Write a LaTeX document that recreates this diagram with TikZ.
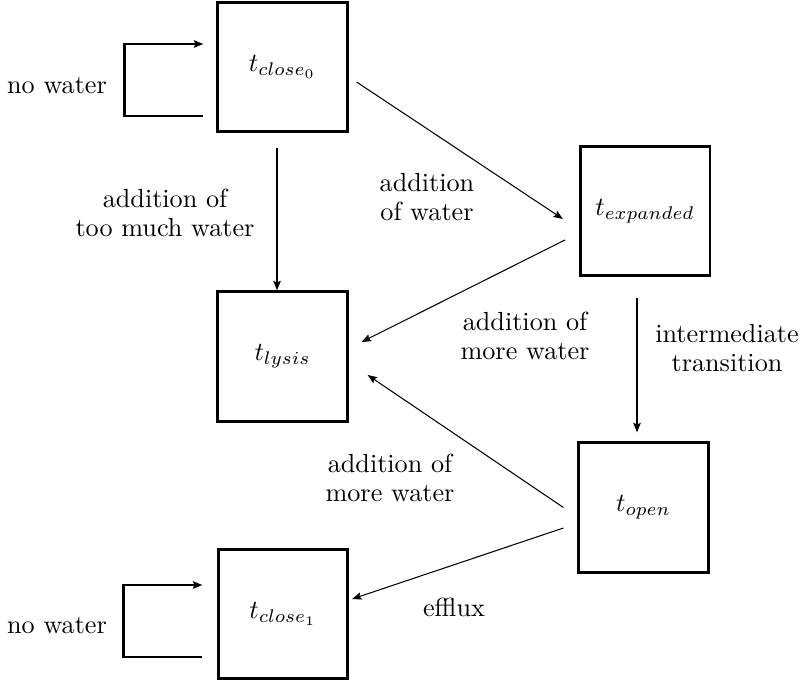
\documentclass[tikz,border=0pt]{standalone}
\usepackage{amsmath}
\usetikzlibrary{arrows.meta,positioning}

\begin{document}
\begin{tikzpicture}[->,>={Stealth[length=3.6pt,width=2.8pt,inset=0.6pt]},x=0.382pt,y=-0.382pt,
                    state node/.style={rectangle,draw,line width=1pt,minimum size=49.5pt,inner sep=0pt},
                    label node/.style={align=center,font=\fontsize{10}{10.8}\selectfont}]
        \useasboundingbox (0,0) rectangle (806,683);

        \node[state node] (close0) at (282.5,67) {$t_{close_0}$};
        \node[state node] (expanded) at (645,211) {$t_{expanded}$};
        \node[state node] (lysis) at (282.5,356.5) {$t_{lysis}$};
        \node[state node] (open) at (643.5,507.5) {$t_{open}$};
        \node[state node] (close1) at (283,614) {$t_{close_1}$};

        \node[label node] (nowater0) at (57,86) {no water};
        \node[label node] (toomuch) at (165,213) {addition of\\too much water};
        \node[label node] (ofwater) at (427,197) {addition\\of water};
        \node[label node] (more1) at (525,336) {addition of\\more water};
        \node[label node] (inter) at (727,348) {intermediate\\transition};
        \node[label node] (more2) at (390,478) {addition of\\more water};
        \node[label node] (efflux) at (454,607) {efflux};
        \node[label node] (nowater1) at (57,626) {no water};

        \path[thin]
            ([shift={(8,15)}]close0.east) edge ([shift={(-16,8)}]expanded.west)
            ([shift={(-14,29)}]expanded.west) edge ([shift={(13,-14.5)}]lysis.east)
            ([shift={(-14,0)}]open.west) edge ([shift={(19,18.5)}]lysis.east)
            ([shift={(-14,20.5)}]open.west) edge ([shift={(3,-15)}]close1.east);
        \path[thick]
            ([shift={(-5.5,15)}]close0.south) edge ([shift={(-5.5,0)}]lysis.north)
            ([shift={(-8,21)}]expanded.south) edge ([shift={(-6.5,-9)}]open.north);

        \draw[line width=1pt] ([shift={(-13,49)}]close0.west) -- ++(-79,0) |- ([shift={(-13,-23)}]close0.west);
        \draw[line width=1pt] ([shift={(-14.5,43)}]close1.west) -- ++(-79,0) |- ([shift={(-14.5,-29)}]close1.west);
\end{tikzpicture}
\end{document}
